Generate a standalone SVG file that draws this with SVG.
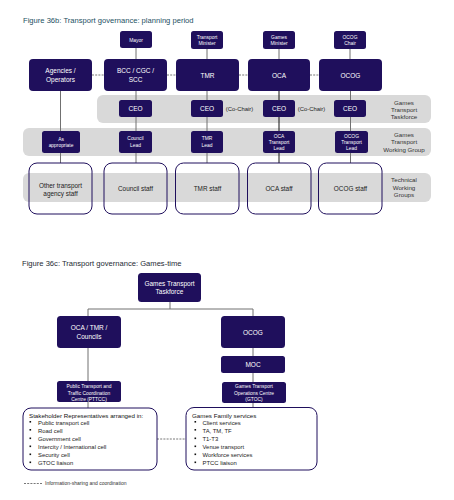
<svg xmlns="http://www.w3.org/2000/svg" width="454" height="500" viewBox="0 0 454 500">
<style>
text{font-family:"Liberation Sans",Arial,sans-serif}
.t1{font-size:7.6px;fill:#23505f}
.t2{font-size:7.6px;fill:#1d2a33}
.nb{fill:#1f0f5c}
.band{fill:#d9d9d9}
.w{fill:#fff;text-anchor:middle}
.f65{font-size:6.5px}
.f5{font-size:4.9px}
.f7{font-size:7px}
.lbl{font-size:6.2px;fill:#333;text-anchor:middle}
.staff{fill:none;stroke:#1f0f5c;stroke-width:1}
.st{font-size:6.4px;fill:#222;text-anchor:middle}
.ln{stroke:#707070;stroke-width:1;fill:none}
.dk{stroke:#111;stroke-width:1;fill:none}
.dash{stroke:#555;stroke-width:0.8;stroke-dasharray:2,1.2;fill:none}
.lt{font-size:5.9px;fill:#222}
.ltb{font-size:6.2px;fill:#111}
</style>
<text class="t1" x="23" y="23">Figure 36b: Transport governance: planning period</text>

<g id="bands">
<rect class="band" x="97" y="95" width="334" height="28" rx="6"/>
<rect class="band" x="23" y="128" width="408" height="28" rx="6"/>
<rect class="band" x="23" y="173" width="408" height="29" rx="6"/>
<text class="lbl"><tspan x="404" y="105">Games</tspan><tspan x="404" y="112">Transport</tspan><tspan x="404" y="119">Taskforce</tspan></text>
<text class="lbl"><tspan x="404" y="136.5">Games</tspan><tspan x="404" y="144">Transport</tspan><tspan x="404" y="152">Working Group</tspan></text>
<text class="lbl"><tspan x="404" y="182">Technical</tspan><tspan x="404" y="189.5">Working</tspan><tspan x="404" y="197">Groups</tspan></text>
</g>

<g id="connectors">
<line class="ln" x1="136" y1="48" x2="136" y2="59"/>
<line class="ln" x1="207" y1="49" x2="207" y2="59"/>
<line class="ln" x1="279" y1="49" x2="279" y2="59"/>
<line class="ln" x1="350" y1="49" x2="350" y2="59"/>
<line class="dash" x1="92" y1="75" x2="104" y2="75"/>
<line class="dash" x1="167" y1="75" x2="176" y2="75"/>
<line class="dash" x1="239" y1="75" x2="248" y2="75"/>
<line class="dash" x1="310" y1="75" x2="319" y2="75"/>
<line class="ln" x1="60.5" y1="91" x2="60.5" y2="163"/>
<line class="ln" x1="136" y1="91" x2="136" y2="163"/>
<line class="ln" x1="207" y1="91" x2="207" y2="163"/>
<line class="dk" x1="279" y1="91" x2="279" y2="163"/>
<line class="ln" x1="350.5" y1="91" x2="350.5" y2="163"/>
<line class="ln" x1="170" y1="302" x2="170" y2="309"/>
<polyline class="ln" points="88,316 88,309 253,309 253,316"/>
<line class="ln" x1="88" y1="348" x2="88" y2="381"/>
<line class="ln" x1="88" y1="402" x2="88" y2="408"/>
<line class="ln" x1="253" y1="348" x2="253" y2="356"/>
<line class="ln" x1="253" y1="373" x2="253" y2="382"/>
<line class="ln" x1="253" y1="403" x2="253" y2="407.5"/>
<line class="dash" x1="157" y1="439" x2="186" y2="439"/>
</g>

<g id="mayor"><rect class="nb" x="120" y="31" width="32" height="17" rx="2.5"/><text class="w f5" x="136" y="41.5">Mayor</text></g>
<g id="transport-minister"><rect class="nb" x="191" y="31" width="32" height="18" rx="2.5"/><text class="w f5"><tspan x="207" y="38.5">Transport</tspan><tspan x="207" y="44.5">Minister</tspan></text></g>
<g id="games-minister"><rect class="nb" x="263" y="31" width="32" height="18" rx="2.5"/><text class="w f5"><tspan x="279" y="38.5">Games</tspan><tspan x="279" y="44.5">Minister</tspan></text></g>
<g id="ocog-chair"><rect class="nb" x="334" y="31" width="32" height="18" rx="2.5"/><text class="w f5"><tspan x="350" y="38.5">OCOG</tspan><tspan x="350" y="44.5">Chair</tspan></text></g>

<g id="agencies"><rect class="nb" x="29" y="59" width="63" height="32" rx="4"/><text class="w f65"><tspan x="60.5" y="73">Agencies /</tspan><tspan x="60.5" y="82">Operators</tspan></text></g>
<g id="bcc"><rect class="nb" x="104" y="59" width="63" height="32" rx="4"/><text class="w f65"><tspan x="135.5" y="73">BCC / CGC /</tspan><tspan x="135.5" y="82">SCC</tspan></text></g>
<g id="tmr"><rect class="nb" x="176" y="59" width="63" height="32" rx="4"/><text class="w f65" x="207.5" y="77.5">TMR</text></g>
<g id="oca"><rect class="nb" x="248" y="59" width="62" height="32" rx="4"/><text class="w f65" x="279" y="77.5">OCA</text></g>
<g id="ocog"><rect class="nb" x="319" y="59" width="63" height="32" rx="4"/><text class="w f65" x="350.5" y="77.5">OCOG</text></g>

<g id="ceo-bcc"><rect class="nb" x="119" y="100" width="33" height="17" rx="2.5"/><text class="w f65" x="135.5" y="111">CEO</text></g>
<g id="ceo-tmr"><rect class="nb" x="191" y="100" width="32" height="17" rx="2.5"/><text class="w f65" x="207" y="111">CEO</text></g>
<g id="ceo-oca"><rect class="nb" x="263" y="100" width="32" height="17" rx="2.5"/><text class="w f65" x="279" y="111">CEO</text></g>
<g id="ceo-ocog"><rect class="nb" x="334" y="100" width="32" height="17" rx="2.5"/><text class="w f65" x="350" y="111">CEO</text></g>
<text style="font-size:5.9px;fill:#222;text-anchor:middle" x="239.5" y="110.5">(Co-Chair)</text>
<text style="font-size:5.9px;fill:#222;text-anchor:middle" x="311.5" y="110.5">(Co-Chair)</text>

<g id="as-appropriate"><rect class="nb" x="42" y="131" width="38" height="22" rx="2.5"/><text class="w f5"><tspan x="61" y="140.5">As</tspan><tspan x="61" y="147">appropriate</tspan></text></g>
<g id="council-lead"><rect class="nb" x="119" y="131" width="33" height="22" rx="2.5"/><text class="w f5"><tspan x="135.5" y="140">Council</tspan><tspan x="135.5" y="146.5">Lead</tspan></text></g>
<g id="tmr-lead"><rect class="nb" x="191" y="131" width="32" height="22" rx="2.5"/><text class="w f5"><tspan x="207" y="140">TMR</tspan><tspan x="207" y="146.5">Lead</tspan></text></g>
<g id="oca-lead"><rect class="nb" x="263" y="131" width="32" height="22" rx="2.5"/><text class="w f5"><tspan x="279" y="137.5">OCA</tspan><tspan x="279" y="143.5">Transport</tspan><tspan x="279" y="149.5">Lead</tspan></text></g>
<g id="ocog-lead"><rect class="nb" x="335" y="131" width="33" height="22" rx="2.5"/><text class="w f5"><tspan x="351.5" y="137.5">OCOG</tspan><tspan x="351.5" y="143.5">Transport</tspan><tspan x="351.5" y="149.5">Lead</tspan></text></g>

<g id="other-staff"><rect class="staff" x="29" y="163" width="63" height="51" rx="8"/><text class="st"><tspan x="60.5" y="187.5">Other transport</tspan><tspan x="60.5" y="195.5">agency staff</tspan></text></g>
<g id="council-staff"><rect class="staff" x="104" y="163" width="63" height="51" rx="8"/><text class="st" x="135.5" y="190.5">Council staff</text></g>
<g id="tmr-staff"><rect class="staff" x="175.5" y="163" width="63.5" height="51" rx="8"/><text class="st" x="207.5" y="191">TMR staff</text></g>
<g id="oca-staff"><rect class="staff" x="247.5" y="163" width="63.5" height="51" rx="8"/><text class="st" x="279" y="191">OCA staff</text></g>
<g id="ocog-staff"><rect class="staff" x="318.5" y="163" width="63.5" height="51" rx="8"/><text class="st" x="350.5" y="191">OCOG staff</text></g>

<text class="t2" x="22" y="265.5">Figure 36c: Transport governance: Games-time</text>

<g id="taskforce"><rect class="nb" x="138" y="273" width="63" height="29" rx="3.5"/><text class="w f65"><tspan x="169.5" y="285.5">Games Transport</tspan><tspan x="169.5" y="294">Taskforce</tspan></text></g>
<g id="oca-tmr-councils"><rect class="nb" x="57" y="316" width="64" height="32" rx="3.5"/><text class="w f65"><tspan x="89" y="330">OCA /  TMR /</tspan><tspan x="89" y="338.5">Councils</tspan></text></g>
<g id="ocog2"><rect class="nb" x="221" y="316" width="64" height="32" rx="3.5"/><text class="w f65" x="253" y="334.5">OCOG</text></g>
<g id="moc"><rect class="nb" x="221" y="356" width="64" height="17" rx="2.5"/><text class="w f65" x="253" y="367">MOC</text></g>
<g id="gtoc"><rect class="nb" x="222" y="382" width="64" height="21" rx="2.5"/><text class="w f5"><tspan x="254" y="387.5">Games Transport</tspan><tspan x="254" y="394.5">Operations Centre</tspan><tspan x="254" y="401">(GTOC)</tspan></text></g>
<g id="pttcc"><rect class="nb" x="57" y="381" width="64" height="21" rx="2.5"/><text class="w f5"><tspan x="89" y="387.5">Public Transport and</tspan><tspan x="89" y="394.5">Traffic Coordination</tspan><tspan x="89" y="401">Centre (PTTCC)</tspan></text></g>

<g id="stakeholders">
<rect class="staff" x="23" y="408" width="134" height="62" rx="8"/>
<text class="ltb" x="29" y="418">Stakeholder Representatives arranged in:</text>
<g fill="#111"><rect x="29.5" y="421" width="1.6" height="1.6"/><rect x="29.5" y="429" width="1.6" height="1.6"/><rect x="29.5" y="437.5" width="1.6" height="1.6"/><rect x="29.5" y="445.5" width="1.6" height="1.6"/><rect x="29.5" y="453.5" width="1.6" height="1.6"/><rect x="29.5" y="461.5" width="1.6" height="1.6"/></g>
<text class="lt"><tspan x="38" y="424.5">Public transport cell</tspan><tspan x="38" y="432.5">Road cell</tspan><tspan x="38" y="441">Government cell</tspan><tspan x="38" y="449">Intercity / International cell</tspan><tspan x="38" y="457">Security cell</tspan><tspan x="38" y="465">GTOC  liaison</tspan></text>
</g>

<g id="games-family">
<rect class="staff" x="186" y="407.5" width="131" height="62.5" rx="8"/>
<text class="ltb" x="192" y="418">Games Family services</text>
<g fill="#111"><rect x="194.5" y="421" width="1.6" height="1.6"/><rect x="194.5" y="429" width="1.6" height="1.6"/><rect x="194.5" y="437.5" width="1.6" height="1.6"/><rect x="194.5" y="445.5" width="1.6" height="1.6"/><rect x="194.5" y="453.5" width="1.6" height="1.6"/><rect x="194.5" y="461.5" width="1.6" height="1.6"/></g>
<text class="lt"><tspan x="202.5" y="424.5">Client services</tspan><tspan x="202.5" y="432.5">TA, TM, TF</tspan><tspan x="202.5" y="441">T1-T3</tspan><tspan x="202.5" y="449">Venue transport</tspan><tspan x="202.5" y="457">Workforce services</tspan><tspan x="202.5" y="465">PTCC liaison</tspan></text>
</g>

<g id="legend">
<line class="dash" x1="24" y1="483.5" x2="43" y2="483.5"/>
<text style="font-size:5px;fill:#333" x="45" y="485.3">Information-sharing and coordination</text>
</g>
</svg>
